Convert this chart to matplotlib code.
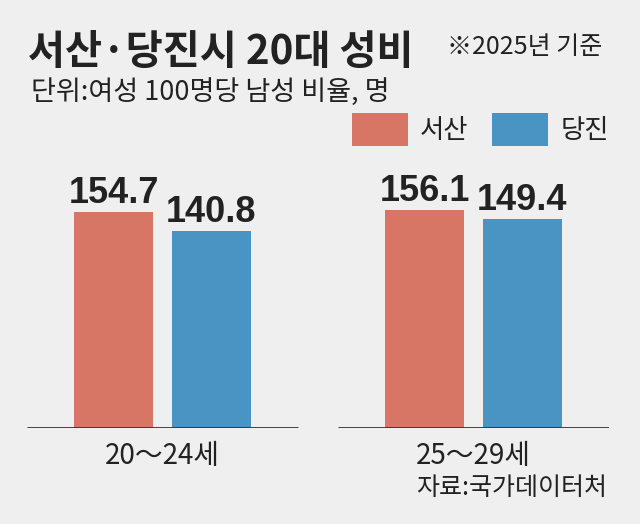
import matplotlib
matplotlib.use("Agg")
import matplotlib.pyplot as plt
from matplotlib.patches import Rectangle

# ---- data ----
categories = ["20～24세", "25～29세"]
series_names = ["서산", "당진"]
seosan = [154.7, 156.1]
dangjin = [140.8, 149.4]
title = "서산·당진시 20대 성비"
note = "※2025년 기준"
subtitle = "단위:여성 100명당 남성 비율, 명"
source = "자료:국가데이터처"

# ---- style ----
BG = "#EFEFEF"
C1 = "#D87665"
C2 = "#4A94C4"
TXT = "#222222"
KR = ["Noto Sans CJK KR", "DejaVu Sans"]
NUM = ["Liberation Sans", "DejaVu Sans"]
plt.rcParams["font.family"] = KR

W, H = 640, 524
fig = plt.figure(figsize=(W / 100, H / 100), dpi=100, facecolor=BG)

def fx(px):
    return px / W

def fy(py):
    return 1 - py / H

ax = fig.add_axes([fx(27), 96.3 / H, 582 / W, 278.8 / H])
ax.set_facecolor(BG)
ax.set_xlim(-0.4357, 1.4357)
ax.set_ylim(0, 200)
ax.axis("off")

bw = 0.254
off = 0.156
xs = list(range(len(categories)))
b1 = ax.bar([x - off for x in xs], seosan, width=bw, color=C1, zorder=2)
b2 = ax.bar([x + off for x in xs], dangjin, width=bw, color=C2, zorder=2)

for bars, vals in ((b1, seosan), (b2, dangjin)):
    for rect, v in zip(bars, vals):
        ax.annotate(f"{v:.1f}", (rect.get_x() + rect.get_width() / 2, v),
                    xytext=(0, 6.5), textcoords="offset points",
                    ha="center", va="baseline", fontsize=26,
                    fontweight="bold", family=NUM, color=TXT)

for x, cat in zip(xs, categories):
    ax.hlines(0, x - 0.4357, x + 0.4357, color="#333333", lw=2, zorder=3)
    ax.annotate(cat, (x, 0), xytext=(0, -26), textcoords="offset points",
                ha="center", va="baseline", fontsize=20, color=TXT)

# titles
fig.text(fx(28), fy(64), title, fontsize=29, fontweight="bold",
         color=TXT, ha="left", va="baseline")
fig.text(fx(602), fy(54), note, fontsize=18, color=TXT,
         ha="right", va="baseline")
fig.text(fx(31), fy(100), subtitle, fontsize=19.5, color=TXT,
         ha="left", va="baseline")

# legend
for (lx, tx), name, col in zip(((352, 420), (492, 561)), series_names, (C1, C2)):
    fig.add_artist(Rectangle((fx(lx), fy(146)), 56 / W, 33 / H,
                             transform=fig.transFigure, color=col, lw=0))
    fig.text(fx(tx), fy(130.5), name, fontsize=19, color=TXT,
             ha="left", va="center")

fig.text(fx(607), fy(495), source, fontsize=18, color=TXT,
         ha="right", va="baseline")

fig.savefig("out.png", dpi=100, facecolor=BG)
